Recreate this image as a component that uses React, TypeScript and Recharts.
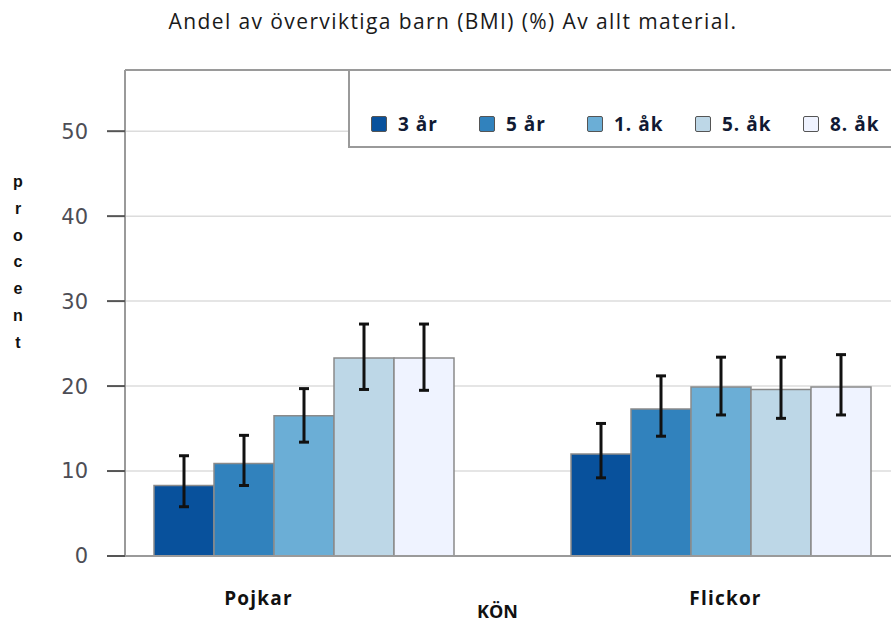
import { Bar, BarChart, CartesianGrid, ErrorBar, Legend, ReferenceLine, XAxis, YAxis } from "recharts";

const TITLE = "Andel av överviktiga barn (BMI) (%) Av allt material.";
const GROUPS = ["Pojkar", "Flickor"];
const SERIES = ["3 år", "5 år", "1. åk", "5. åk", "8. åk"];
const COLORS = ["#08519c", "#3182bd", "#6baed6", "#bdd7e7", "#eff3ff"];

// one row per series, columns follow GROUPS
const VALUES = [
  [8.3, 12.0],
  [10.9, 17.3],
  [16.5, 19.9],
  [23.3, 19.6],
  [23.3, 19.9],
];
const CI_LOW = [
  [5.8, 9.2],
  [8.3, 14.1],
  [13.4, 16.6],
  [19.6, 16.2],
  [19.5, 16.6],
];
const CI_HIGH = [
  [11.8, 15.6],
  [14.2, 21.2],
  [19.7, 23.4],
  [27.3, 23.4],
  [27.3, 23.7],
];
const Y_TICKS = [0, 10, 20, 30, 40, 50];
const Y_MAX = 57.2;

const ROWS = GROUPS.map((g, gi) => {
  const row: Record<string, any> = { kon: g };
  SERIES.forEach((_, si) => {
    const v = VALUES[si][gi];
    row[`s${si}`] = v;
    row[`e${si}`] = [v - CI_LOW[si][gi], CI_HIGH[si][gi] - v];
  });
  return row;
});

const LABEL_FONT = "'Open Sans', sans-serif";

function KonTick({ x, y, payload }: any) {
  // labels in the original sit a bit off the group centres
  const nudge = [-46, 4][payload.index] ?? 0;
  return (
    <text x={x + nudge} y={y} dy={41} textAnchor="middle" fontFamily={LABEL_FONT} fontWeight={700} fontSize={19} letterSpacing={1.2} fill="#111">
      {payload.value}
    </text>
  );
}

function ProcentLabel({ viewBox }: any) {
  const letters = "procent".split("");
  return (
    <text x={18} y={viewBox.y + 117} textAnchor="middle" fontFamily="'Liberation Sans', Arial, sans-serif" fontWeight={700} fontSize={16} fill="#111">
      {letters.map((c, i) => (
        <tspan key={i} x={18} dy={i === 0 ? 0 : 26.8}>
          {c}
        </tspan>
      ))}
    </text>
  );
}

function LegendBox() {
  return (
    <div
      style={{
        height: "100%",
        boxSizing: "border-box",
        border: "2px solid #9a9a9a",
        borderRight: "none",
        background: "#fff",
        display: "flex",
        alignItems: "center",
        paddingLeft: 21,
        paddingTop: 30,
      }}
    >
      {SERIES.map((s, i) => (
        <div key={s} style={{ width: 108, display: "flex", alignItems: "center" }}>
          <span
            style={{
              display: "inline-block",
              width: 16,
              height: 16,
              boxSizing: "border-box",
              background: COLORS[i],
              border: "1.5px solid #555",
              borderRadius: 2,
              marginRight: 11,
            }}
          />
          <span style={{ fontFamily: LABEL_FONT, fontWeight: 700, fontSize: 19, letterSpacing: 1, color: "#111a33" }}>{s}</span>
        </div>
      ))}
    </div>
  );
}

export default function App() {
  return (
    <div style={{ position: "absolute", left: 0, top: 0, width: 891, height: 625, overflow: "hidden", background: "#fff" }}>
      <div
        style={{
          position: "absolute",
          left: 0,
          top: 7,
          width: 906,
          textAlign: "center",
          fontFamily: LABEL_FONT,
          fontSize: 21,
          letterSpacing: 1.4,
          color: "#1a1a1a",
        }}
      >
        {TITLE}
      </div>
      <BarChart width={930} height={625} data={ROWS} margin={{ top: 70, right: 0, bottom: 0, left: 0 }} barCategoryGap={58} barGap={0}>
        <CartesianGrid vertical={false} stroke="#dcdcdc" strokeWidth={1.5} />
        <XAxis
          dataKey="kon"
          height={69}
          padding={{ left: -29, right: 0 }}
          axisLine={{ stroke: "#9a9a9a", strokeWidth: 2 }}
          tickLine={false}
          tick={<KonTick />}
          label={{ value: "KÖN", position: "insideBottom", dx: -30, offset: 7, fontFamily: LABEL_FONT, fontWeight: 700, fontSize: 18, fill: "#111" }}
        />
        <YAxis
          width={125}
          domain={[0, Y_MAX]}
          ticks={Y_TICKS}
          tickSize={18}
          tickMargin={19}
          axisLine={{ stroke: "#9a9a9a", strokeWidth: 2 }}
          tickLine={{ stroke: "#555", strokeWidth: 2 }}
          tick={{ fontSize: 21, fill: "#4d4d55", fontFamily: "'DejaVu Sans', sans-serif" }}
          label={<ProcentLabel />}
        />
        <ReferenceLine y={Y_MAX} stroke="#9a9a9a" strokeWidth={2} />
        {SERIES.map((s, i) => (
          <Bar key={s} dataKey={`s${i}`} name={s} fill={COLORS[i]} stroke="#8a8a8a" strokeWidth={1.5} isAnimationActive={false}>
            <ErrorBar dataKey={`e${i}`} width={5} strokeWidth={3} stroke="#111" direction="y" />
          </Bar>
        ))}
        <Legend
          layout="horizontal"
          verticalAlign="middle"
          align="center"
          content={<LegendBox />}
          wrapperStyle={{ left: 348, top: 69, width: 600, height: 79 }}
        />
      </BarChart>
    </div>
  );
}
